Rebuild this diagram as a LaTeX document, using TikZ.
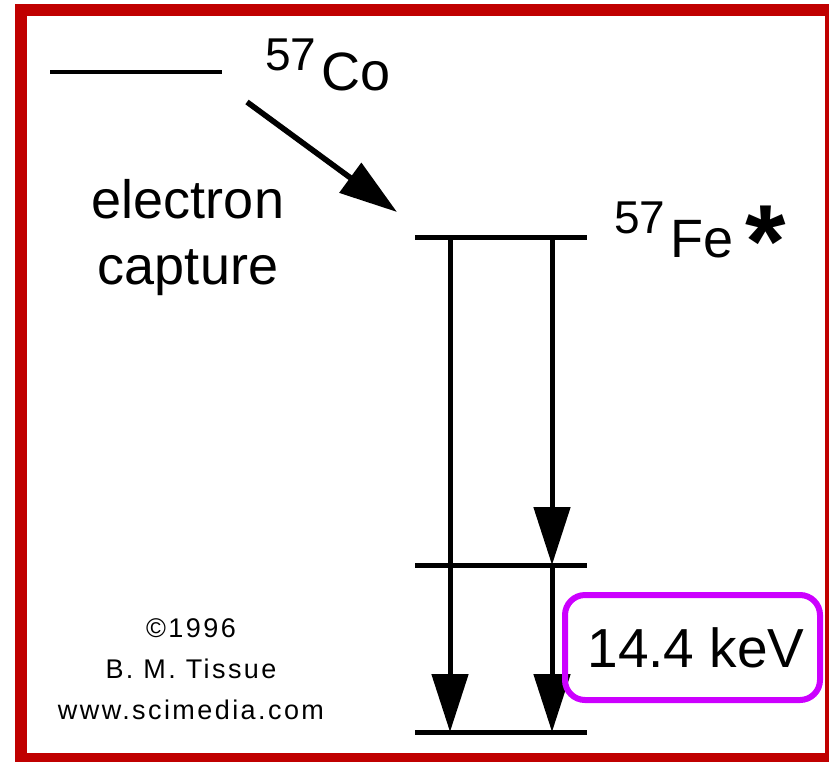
\documentclass[tikz,border=0pt]{standalone}
\usepackage{fontspec}
\setmainfont{Liberation Sans}
\usetikzlibrary{arrows.meta,positioning}
\definecolor{fc}{RGB}{192,0,0}
\definecolor{kc}{RGB}{204,0,255}
\newcommand{\iso}[3]{{\fontsize{23}{23}\selectfont\raisebox{#3}{#1}}\hspace{2.5pt}#2}
\tikzset{lvl/.style={line width=2.5pt},
 gam/.style={line width=2.5pt,-{Triangle[length=29pt,width=18pt]}},
 lab/.style={inner sep=0pt,font=\fontsize{27}{33}\selectfont},
 ebox/.style={draw=kc,line width=3pt,rounded corners=10pt,minimum width=127.5pt,minimum height=52.5pt,inner sep=0pt,font=\fontsize{27.5}{33}\selectfont},
 cred/.style={inner sep=0pt,align=center,font=\fontsize{13.5}{20.5}\selectfont\addfontfeature{LetterSpace=9}}}
\begin{document}
\begin{tikzpicture}[x=.5pt,y=-.5pt]
\useasboundingbox (0,0) rectangle (829,761);
\clip (0,0) rectangle (829,761);
\draw[fc,line width=6pt] (21,10) rectangle (831,759);
\coordinate (co-l) at (50,72);\coordinate (co-r) at (222,72);
\foreach \n/\y in {fe/237,mid/565,gnd/732}{
\coordinate (\n-l) at (415,\y);\coordinate (\n-r) at (587,\y);
\coordinate (\n-a) at (450,\y);\coordinate (\n-b) at (552,\y);\draw[lvl] (\n-l)--(\n-r);}
\draw[lvl,line width=2pt] (co-l)--(co-r);
\coordinate (ec-s) at (247,102);\coordinate (ec-t) at (397,212);
\draw[gam,line width=2.8pt] (ec-s)--(ec-t);
\draw[gam] (fe-a)--(gnd-a);\draw[gam] (fe-b)--(mid-b);\draw[gam] (mid-b)--(gnd-b);
\node[lab,anchor=base west] (co) at (265,90) {\iso{57}{Co}{10pt}};
\node[lab,anchor=base west] (fe) at (614,257) {\iso{57}{Fe}{12pt}};
\node[inner sep=0pt,font=\bfseries\fontsize{52}{52}\selectfont] (star) at (765.5,242) {*};
\node[lab,align=center] (ec) at (188,238) {electron\\capture};
\node[ebox] (kev) at (692.5,647.5) {\hspace*{3.5pt}14.4 keV};
\node[cred] (cr) at (191,669.5) {©1996\\B. M. Tissue\\www.scimedia.com};
\end{tikzpicture}
\end{document}
